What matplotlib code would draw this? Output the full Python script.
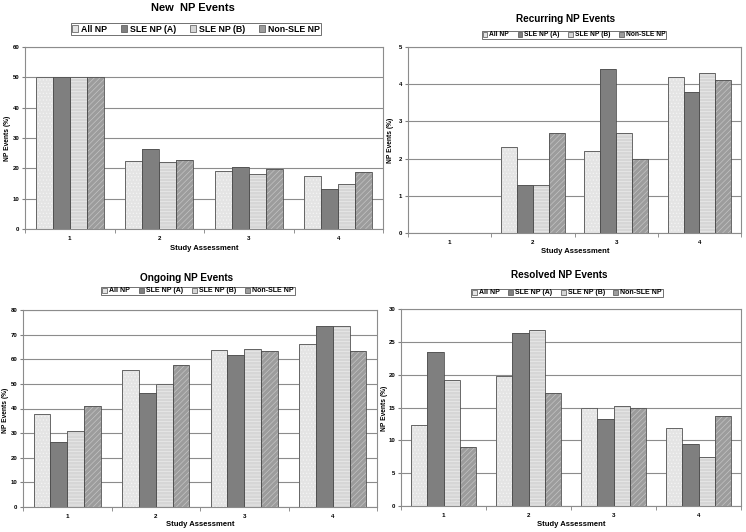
import matplotlib
matplotlib.use("Agg")
import matplotlib.pyplot as plt
from matplotlib.patches import Patch
import numpy as np

plt.rcParams['font.family'] = ['Liberation Sans', 'DejaVu Sans']
plt.rcParams['font.weight'] = 'bold'
plt.rcParams['hatch.linewidth'] = 0.5

assessments = ['1', '2', '3', '4']
series_names = ['All NP', 'SLE NP (A)', 'SLE NP (B)', 'Non-SLE NP']

new_events = [
    [50, 22.3, 19.0, 17.6],   # All NP
    [50, 26.3, 20.6, 13.1],   # SLE NP (A)
    [50, 22.0, 18.0, 14.9],   # SLE NP (B)
    [50, 22.6, 19.8, 18.7],   # Non-SLE NP
]
recurring_events = [
    [0, 2.3, 2.2, 4.2],
    [0, 1.3, 4.4, 3.8],
    [0, 1.3, 2.7, 4.3],
    [0, 2.7, 2.0, 4.1],
]
ongoing_events = [
    [37.6, 55.5, 63.7, 66.1],
    [26.4, 46.1, 61.6, 73.6],
    [30.7, 49.9, 64.3, 73.4],
    [40.9, 57.6, 63.4, 63.4],
]
resolved_events = [
    [12.3, 19.8, 15.0, 11.9],
    [23.5, 26.3, 13.2, 9.4],
    [19.2, 26.8, 15.2, 7.4],
    [9.0, 17.2, 14.9, 13.7],
]

# face colour, hatch pattern, hatch colour
styles = [
    ('#e4e4e4', '.....', '#f4f4f4'),
    ('#7f7f7f', None, '#7f7f7f'),
    ('#d6d6d6', '-----', '#ececec'),
    ('#9c9c9c', '//////', '#c4c4c4'),
]

W, H = 746, 532
fig = plt.figure(figsize=(W / 100, H / 100), dpi=100)


def px(x0, y0, x1, y1):
    # pixel box (top-left origin) -> figure fraction rect
    return [x0 / W, 1 - y1 / H, (x1 - x0) / W, (y1 - y0) / H]


def panel(rect, data, ymax, ystep, title, title_xy, title_fs, leg_xy, leg_fs, colsp,
          xlab_xy, ylab_xy):
    ax = fig.add_axes(px(*rect))
    x = np.arange(1, len(assessments) + 1)
    w = 0.19
    for i, vals in enumerate(data):
        fc, hatch, hc = styles[i]
        pos = x + (i - 1.5) * w
        ax.bar(pos, vals, w, color=fc, edgecolor=hc, hatch=hatch, linewidth=0, zorder=2)
        ax.bar(pos, vals, w, fill=False, edgecolor='#505050', linewidth=0.6, zorder=3)
    ax.set_xlim(0.5, len(assessments) + 0.5)
    ax.set_ylim(0, ymax)
    ax.set_yticks(np.arange(0, ymax + 0.01, ystep))
    ax.set_xticks(x)
    ax.set_xticklabels(assessments)
    ax.set_xticks(np.arange(0.5, len(assessments) + 1, 1), minor=True)
    ax.tick_params(axis='x', which='major', length=0, labelsize=4.5, pad=5)
    ax.tick_params(axis='x', which='minor', length=3, color='#808080', direction='out')
    ax.tick_params(axis='y', length=2.5, color='#808080', labelsize=4.3, pad=1.5)
    ax.yaxis.grid(True, color='#8c8c8c', linewidth=0.8, zorder=0)
    ax.set_axisbelow(True)
    for s in ax.spines.values():
        s.set_color('#8c8c8c')
        s.set_linewidth(0.8)
    fig.text(title_xy[0] / W, 1 - title_xy[1] / H, title, ha='center', va='center',
             fontsize=title_fs, fontweight='bold')
    fig.text(xlab_xy[0] / W, 1 - xlab_xy[1] / H, 'Study Assessment', ha='center', va='center',
             fontsize=5.5, fontweight='bold')
    fig.text(ylab_xy[0] / W, 1 - ylab_xy[1] / H, 'NP Events (%)', ha='center', va='center',
             fontsize=4.8, fontweight='bold', rotation=90)
    handles = [Patch(facecolor=styles[i][0], edgecolor='#505050', linewidth=0.5)
               for i in range(len(series_names))]
    leg = fig.legend(handles, series_names, loc='center', ncol=4,
                     bbox_to_anchor=(leg_xy[0] / W, 1 - leg_xy[1] / H),
                     fontsize=leg_fs, frameon=True, fancybox=False, shadow=False,
                     handlelength=0.7, handleheight=0.7, handletextpad=0.3,
                     columnspacing=colsp, borderpad=0.12, borderaxespad=0)
    leg.get_frame().set_edgecolor('#303030')
    leg.get_frame().set_linewidth(0.6)
    return ax


panel((25, 47, 383, 229), new_events, 60, 10, 'New  NP Events', (193, 8), 8,
      (196, 29), 6.3, 1.6, (204, 248), (8, 138))
panel((408, 47, 741, 233), recurring_events, 5, 1, 'Recurring NP Events', (566, 19), 7.2,
      (574, 35), 4.8, 1.3, (575, 252), (391, 140))
panel((23, 310, 377, 507), ongoing_events, 80, 10, 'Ongoing NP Events', (187, 278), 7.2,
      (198, 291), 5.0, 1.3, (200, 524), (6, 410))
panel((401, 309, 741, 506), resolved_events, 30, 5, 'Resolved NP Events', (559, 275), 7.2,
      (567, 293), 5.0, 1.2, (571, 524), (384, 408))

fig.savefig('out.png', dpi=100)
